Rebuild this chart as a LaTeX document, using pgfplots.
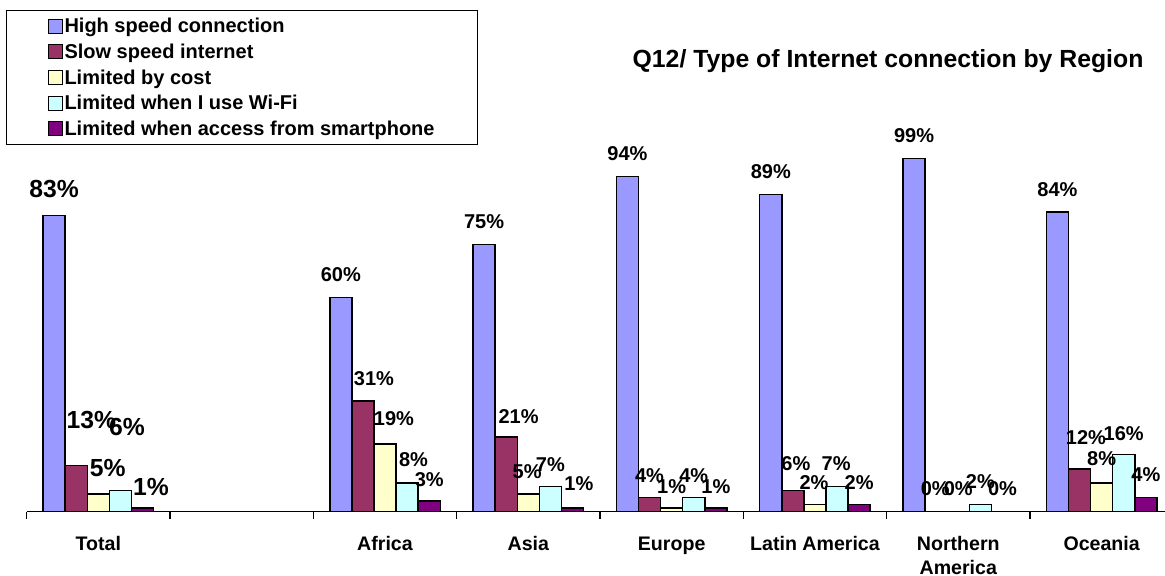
\documentclass[border=0pt]{standalone}
\usepackage{pgfplots}
\usepackage{pgfplotstable}
\pgfplotsset{compat=1.18}
\usepackage{fontspec}
\setmainfont{Liberation Sans}

\definecolor{hispeed}{HTML}{9999FF}
\definecolor{slowspeed}{HTML}{993366}
\definecolor{bycost}{HTML}{FFFFCC}
\definecolor{wifi}{HTML}{CCFFFF}
\definecolor{phone}{HTML}{800080}

% x = category slot (slot 1 is the empty gap), y = percent,
% dx/dy = label offset from the bar top in pt, fs = label font size
\pgfplotstableread{
x y dx dy fs
0 83 0 9.2 12.35
2 60 0 8 10
3 75 0 8 10
4 94 0 8 10
5 89 0 8 10
6 99 0 8 10
7 84 0 8 10
}\tblHigh
\pgfplotstableread{
x y dx dy fs
0 13 7.5 18.5 12.35
2 31 5.5 8 10
3 21 6.2 6.8 10
4 4 0 7.4 10
5 6 1.5 9.8 10
6 0 -0.5 8.3 10
7 12 3.2 12 10
}\tblSlow
\pgfplotstableread{
x y dx dy fs
0 5 4.7 8.5 12.35
2 19 4.5 9 10
3 5 -0.6 7.8 10
4 1 0 7.4 10
5 2 -0.5 7.6 10
6 0 0 8.3 10
7 8 0 8.6 10
}\tblCost
\pgfplotstableread{
x y dx dy fs
0 6 3.3 27.5 12.35
2 8 3.2 8.2 10
3 7 0 7.5 10
4 4 0 7.4 10
5 7 -0.5 8 10
6 2 0 8.2 10
7 16 0 7.3 10
}\tblWifi
\pgfplotstableread{
x y dx dy fs
0 1 4.2 6.5 12.35
2 3 0 7.5 10
3 1 3.2 9 10
4 1 0 7.4 10
5 2 0 7.6 10
6 0 0 8.3 10
7 4 0 7.8 10
}\tblPhone

\begin{document}
\begin{tikzpicture}
\begin{axis}[
  scale only axis,
  width=573.3pt, height=178.3pt,
  at={(13.35pt,31.65pt)}, anchor=south west,
  xmin=-0.5, xmax=7.5, ymin=0, ymax=100,
  enlargelimits=false,
  clip=false,
  /pgf/number format/assume math mode=true,
  ybar=0pt, bar width=11.05pt,
  axis x line*=bottom, axis y line=none,
  axis line style={black, line width=0.75pt},
  xtick={0,2,3,4,5,6,7},
  xticklabels={Total,Africa,Asia,Europe,Latin America,Northern\\America,Oceania},
  typeset ticklabels with strut,
  major tick length=0pt,
  minor xtick={-0.5,0.5,...,7.5},
  minor tick length=3.5pt,
  tick align=outside,
  minor tick style={black, line width=0.75pt},
  xticklabel style={font=\bfseries\fontsize{9.8}{12}\selectfont, align=center, anchor=north, yshift=-7.3pt},
  every axis plot/.append style={draw=black, line width=0.75pt},
  nodes near coords={\pgfmathprintnumber{\pgfplotspointmeta}\%},
  visualization depends on={\thisrow{dx}\as\lblx},
  visualization depends on={\thisrow{dy}\as\lbly},
  visualization depends on={\thisrow{fs}\as\lblfs},
  every node near coord/.append style={anchor=base, inner sep=0pt, xshift=\lblx pt, yshift=\lbly pt,
    font=\bfseries\fontsize{\lblfs}{14}\selectfont, text=black},
  title={Q12/ Type of Internet connection by Region},
  title style={at={(0.7512,1.2134)}, anchor=base, font=\bfseries\fontsize{12.4}{14}\selectfont},
  legend image code/.code={\draw[#1, line width=0.5pt] (0pt,-3.5pt) rectangle (7pt,3.5pt);},
  legend cell align=left,
  legend style={at={(-0.01805,1.4069)}, anchor=north west, draw=black, line width=0.5pt,
    fill=white, inner xsep=20.5pt, inner ysep=1.5pt, row sep=0pt,
    font=\bfseries\fontsize{10}{12}\selectfont,
    nodes={text height=8.2pt, text depth=1.6pt, inner ysep=1.5pt, inner xsep=1pt},
    /tikz/every even column/.append style={column sep=0pt}},
]
\addplot[fill=hispeed] table[x=x,y=y] {\tblHigh};
\addlegendentry{High speed connection}
\addplot[fill=slowspeed] table[x=x,y=y] {\tblSlow};
\addlegendentry{Slow speed internet}
\addplot[fill=bycost] table[x=x,y=y] {\tblCost};
\addlegendentry{Limited by cost}
\addplot[fill=wifi] table[x=x,y=y] {\tblWifi};
\addlegendentry{Limited when I use Wi-Fi}
\addplot[fill=phone] table[x=x,y=y] {\tblPhone};
\addlegendentry{Limited when access from smartphone}
\end{axis}
\pgfresetboundingbox
\useasboundingbox (0,0) rectangle (582.5pt,287.5pt);
\end{tikzpicture}
\end{document}
